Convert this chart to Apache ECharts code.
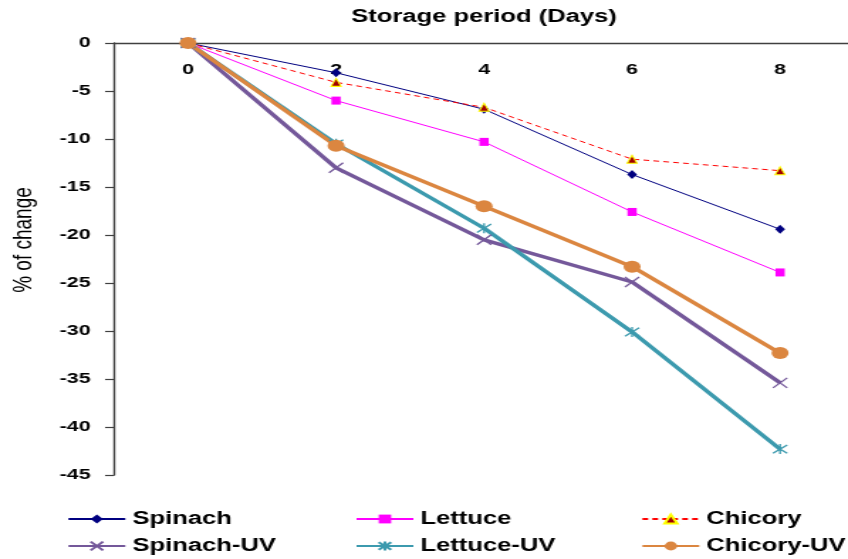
<!DOCTYPE html>
<html>
<head>
<meta charset="utf-8">
<script src="https://cdn.jsdelivr.net/npm/echarts@6/dist/echarts.min.js"></script>
<style>
  html, body { margin: 0; padding: 0; background: #fff; overflow: hidden; }
  #wrap { width: 848px; height: 559px; overflow: hidden; }
  /* chart is laid out on a narrower canvas and widened to the page width */
  #chart { width: 597px; height: 559px; transform: scaleX(1.4204); transform-origin: 0 0; }
</style>
</head>
<body>
<div id="wrap"><div id="chart"></div></div>
<script>
// Storage period (days) and percentage change per product
const days = ['0', '2', '4', '6', '8'];
const spinach   = [0, -3.1, -6.9, -13.7, -19.4];
const lettuce   = [0, -6.0, -10.3, -17.6, -23.9];
const chicory   = [0, -4.1, -6.7, -12.1, -13.3];
const spinachUV = [0, -13.0, -20.5, -24.9, -35.4];
const lettuceUV = [0, -10.5, -19.3, -30.1, -42.3];
const chicoryUV = [0, -10.7, -17.0, -23.3, -32.3];

const FONT = 'Liberation Sans, Arial, sans-serif';
const AXIS_COLOR = '#404040';
const CROSS = 'path://M0,0L10,10M10,0L0,10';
const STAR = 'path://M0,0L10,10M10,0L0,10M5,-1L5,11';

const chart = echarts.init(document.getElementById('chart'), null, { renderer: 'canvas' });

function thin(name, data, color, symbol, size, extra) {
  return Object.assign({
    name, type: 'line', data, symbol, symbolSize: size,
    lineStyle: { color, width: 1 },
    itemStyle: { color },
    animation: false
  }, extra || {});
}
function thick(name, data, color, symbol, size, stroked) {
  return {
    name, type: 'line', data, symbol, symbolSize: size,
    lineStyle: { color, width: 3.4 },
    itemStyle: stroked ? { color: color, borderColor: color, borderWidth: 1.3 } : { color },
    animation: false
  };
}

const legendBase = {
  orient: 'horizontal', itemWidth: 40, itemHeight: 11, itemGap: 0, padding: 0, selectedMode: false,
  textStyle: { fontFamily: FONT, fontWeight: 'bold', fontSize: 18, color: '#000' }
};
const legendSpots = [
  ['Spinach', 47.2, 510], ['Lettuce', 250, 510], ['Chicory', 451.3, 510],
  ['Spinach-UV', 47.2, 537], ['Lettuce-UV', 250, 537], ['Chicory-UV', 451.3, 537]
];

chart.setOption({
  backgroundColor: '#fff',
  grid: { left: 80.3, top: 43, width: 521, height: 432, containLabel: false, outerBoundsMode: 'none' },
  legend: legendSpots.map(([n, l, t]) => Object.assign({}, legendBase, { data: [n], left: l, top: t })),
  xAxis: {
    type: 'category', position: 'top', data: days, boundaryGap: true,
    name: 'Storage period (Days)', nameLocation: 'middle', nameGap: 17, nameMoveOverlap: false,
    nameTextStyle: { fontFamily: FONT, fontWeight: 'bold', fontSize: 18, color: '#000' },
    axisLine: { lineStyle: { color: AXIS_COLOR, width: 1.4 } },
    axisTick: { inside: true, length: 6, lineStyle: { color: AXIS_COLOR, width: 1.2 } },
    axisLabel: { inside: true, margin: 19, fontFamily: FONT, fontWeight: 'bold', fontSize: 15, color: '#000' },
    splitLine: { show: false }
  },
  yAxis: {
    type: 'value', min: -45, max: 0, interval: 5,
    name: '% of change', nameLocation: 'middle', nameRotate: 90, nameGap: 54, nameMoveOverlap: false,
    nameTextStyle: { fontFamily: FONT, fontSize: 19, color: '#000', padding: [0, 0, 0, 38] },
    axisLine: { show: true, lineStyle: { color: AXIS_COLOR, width: 1.4 } },
    axisTick: { show: true, inside: false, length: 6.3, lineStyle: { color: AXIS_COLOR, width: 1.2 } },
    axisLabel: { margin: 16.5, fontFamily: FONT, fontWeight: 'bold', fontSize: 15, color: '#000' },
    splitLine: { show: false }
  },
  series: [
    thin('Spinach', spinach, '#000080', 'diamond', [7, 9]),
    thin('Lettuce', lettuce, '#FF00FF', 'rect', [6.5, 8]),
    thin('Chicory', chicory, '#FF0000', 'triangle', [7, 8], {
      lineStyle: { color: '#FF0000', width: 1, type: [4, 3] },
      itemStyle: { color: '#A00000', borderColor: '#FFFF00', borderWidth: 1 }
    }),
    thick('Spinach-UV', spinachUV, '#74589A', CROSS, 10, true),
    thick('Lettuce-UV', lettuceUV, '#3C9AAE', STAR, 10, true),
    thick('Chicory-UV', chicoryUV, '#DB8640', 'circle', 12, false)
  ]
});
</script>
</body>
</html>
